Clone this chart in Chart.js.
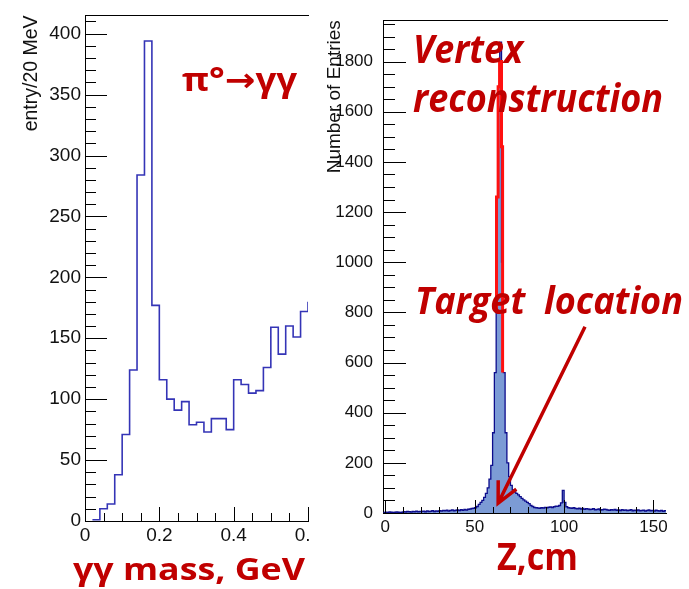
<!DOCTYPE html>
<html><head><meta charset="utf-8">
<script src="https://cdn.jsdelivr.net/npm/chart.js@4.4.1/dist/chart.umd.min.js"></script>
<style>
html,body{margin:0;padding:0;background:#fff;}
body{width:689px;height:589px;position:relative;overflow:hidden;}
#leftWrap{position:absolute;left:0;top:0;width:309px;height:589px;overflow:hidden;}
#rightWrap{position:absolute;left:312px;top:0;width:377px;height:589px;}
.ann{position:absolute;color:#c00000;font-family:"Open Sans","Noto Sans","DejaVu Sans",sans-serif;font-weight:700;line-height:1;white-space:pre;transform-origin:0 0;}
.it{font-style:italic;}
</style></head><body>
<div id="leftWrap"><canvas id="c1" width="340" height="589"></canvas></div>
<div id="rightWrap"><canvas id="c2" width="377" height="589"></canvas></div>
<div class="ann" id="a1" data-w="115" style="left:182px;top:62px;font-size:33px;">π°→γγ</div>
<div class="ann" id="a2" data-w="232" style="left:73px;top:553px;font-size:31px;">γγ mass, GeV</div>
<div class="ann it" id="a3" data-w="110" style="left:413px;top:28px;font-size:39px;">Vertex</div>
<div class="ann it" id="a4" data-w="250" style="left:413px;top:77px;font-size:39px;">reconstruction</div>
<div class="ann it" id="a5" data-w="268" style="left:415px;top:281px;font-size:37px;">Target  location</div>
<div class="ann" id="a6" data-w="81" style="left:497px;top:537px;font-size:37px;">Z,cm</div>
<script>
// ---------- DATA ----------
// Left: gamma-gamma invariant mass, 20 MeV bins (left bin edges, GeV)
const massBinLow = [0.02,0.04,0.06,0.08,0.10,0.12,0.14,0.16,0.18,0.20,0.22,0.24,0.26,0.28,0.30,0.32,0.34,0.36,0.38,0.40,0.42,0.44,0.46,0.48,0.50,0.52,0.54,0.56,0.58,0.60];
const massBinWidth = 0.02;
const massCounts = [1,10,14,38,71,124,284,394,177,116,100,91,98,79,81,73,84,84,75,116,112,105,107,126,159,137,160,151,172,180];
const massTicks = [0,0.2,0.4,0.6];
const massTickLabels = ['0','0.2','0.4','0.6'];
const massYTicks = [0,50,100,150,200,250,300,350,400];
const massYTickLabels = ['0','50','100','150','200','250','300','350','400'];

// Right: reconstructed vertex Z, 1 cm bins starting at -1 cm
const zBinStart = -1;
const zBinWidth = 1;
const zCounts = [
 2,3,2,4,3,2,3,4,3,2,3,
 5,4,6,5,4,6,5,7,5,6,
 6,7,5,8,6,7,9,6,8,7,
 9,8,10,9,11,8,10,12,9,11,
 12,10,13,11,14,12,15,
 16,18,19,21,26,34,42,50,62,78,100,135,190,320,560,
 1260,1700,1877,1000,
 560,320,200,145,110,92,84,78,72,65,58,52,47,42,37,
 30,26,22,21,20,19,21,20,22,21,23,24,22,25,27,
 27,30,40,90,42,25,21,
 20,19,21,18,17,19,16,18,15,17,16,14,15,17,13,14,16,12,13,15,
 14,12,11,13,12,14,11,12,10,13,11,12,10,11,13,9,11,10,12,9,
 10,11,8,10,12,9,10,8,11,9,8,10,7,9];
// Red overlay histogram (narrow peak outline)
const redZ = [62.2,62.2,63.1,63.9,65.0,65.6];
const redCounts = [800,1260,1700,1800,1460,560];
const zTicks = [0,50,100,150];
const zTickLabels = ['0','50','100','150'];
const zYTicks = [0,200,400,600,800,1000,1200,1400,1600,1800];
const zYTickLabels = ['0','200','400','600','800','1000','1200','1400','1600','1800'];
// Arrow annotation (data units): tail -> tip
const arrowTail = [111.7, 743];
const arrowTip = [63.1, 39];

// ---------- HELPERS ----------
const FONT = '"Liberation Sans", Arial, Helvetica, sans-serif';
function stepPoints(lows, counts, width){
  const pts = lows.map((x,i)=>({x:x, y:counts[i]}));
  pts.push({x: lows[lows.length-1]+width, y: counts[counts.length-1]});
  return pts;
}
const zLows = zCounts.map((_,i)=>zBinStart + i*zBinWidth);

function insideTicks(cfg){
  return {
    id:'insideTicks',
    afterDraw(chart){
      const ctx = chart.ctx, a = chart.chartArea;
      const xs = chart.scales.x, ys = chart.scales.y;
      ctx.save();
      ctx.strokeStyle = '#000'; ctx.lineWidth = 1;
      ctx.beginPath();
      for(let i=0;;i++){
        const v = cfg.x.from + i*cfg.x.minor;
        if (v > xs.max + 1e-9) break;
        if (v < xs.min - 1e-9) continue;
        const r = v/cfg.x.major, isMaj = Math.abs(r-Math.round(r))<1e-6;
        const px = Math.round(xs.getPixelForValue(v))+0.5;
        ctx.moveTo(px, a.bottom); ctx.lineTo(px, a.bottom-(isMaj?cfg.x.majLen:cfg.x.minLen));
      }
      for(let i=0;;i++){
        const v = cfg.y.from + i*cfg.y.minor;
        if (v > ys.max + 1e-9) break;
        const r = v/cfg.y.major, isMaj = Math.abs(r-Math.round(r))<1e-6;
        const py = Math.round(ys.getPixelForValue(v))+0.5;
        ctx.moveTo(a.left, py); ctx.lineTo(a.left+(isMaj?cfg.y.majLen:cfg.y.minLen), py);
      }
      // top frame line
      ctx.moveTo(a.left, Math.round(a.top)+0.5); ctx.lineTo(a.right+2, Math.round(a.top)+0.5);
      ctx.stroke();
      if (cfg.arrow){
        const x0 = xs.getPixelForValue(cfg.arrow.tail[0]), y0 = ys.getPixelForValue(cfg.arrow.tail[1]);
        const x1 = xs.getPixelForValue(cfg.arrow.tip[0]), y1 = ys.getPixelForValue(cfg.arrow.tip[1]);
        const ang = Math.atan2(y0-y1, x0-x1);
        const hl = 23, ha = 26*Math.PI/180;
        ctx.strokeStyle = '#c00000'; ctx.lineWidth = 3.5; ctx.lineCap='butt';
        ctx.beginPath();
        ctx.moveTo(x0,y0); ctx.lineTo(x1,y1);
        ctx.moveTo(x1+hl*Math.cos(ang-ha), y1+hl*Math.sin(ang-ha));
        ctx.lineTo(x1,y1);
        ctx.lineTo(x1+hl*Math.cos(ang+ha), y1+hl*Math.sin(ang+ha));
        ctx.stroke();
      }
      ctx.restore();
    }
  };
}

// ---------- LEFT CHART ----------
new Chart(document.getElementById('c1'), {
  type:'line',
  data:{datasets:[{
    data: stepPoints(massBinLow, massCounts, massBinWidth),
    borderColor:'#3434b6', borderWidth:1.6, pointRadius:0, stepped:true, fill:false, tension:0
  }]},
  options:{
    responsive:false, animation:false, events:[],
    layout:{padding:{left:0, top:15, right:32, bottom:0}},
    plugins:{legend:{display:false}, tooltip:{enabled:false}},
    scales:{
      x:{type:'linear', min:0, max:0.6,
        grid:{display:false, drawTicks:false},
        border:{display:true, color:'#000', width:1},
        afterBuildTicks:s=>{ s.ticks = massTicks.map(v=>({value:v})); },
        afterFit:s=>{ s.height = 68; },
        ticks:{font:{family:FONT, size:19}, color:'#111', padding:3, maxRotation:0, autoSkip:false,
          callback:(v,i)=>massTickLabels[i]}
      },
      y:{type:'linear', min:0, max:415,
        grid:{display:false, drawTicks:false},
        border:{display:true, color:'#000', width:1},
        afterBuildTicks:s=>{ s.ticks = massYTicks.map(v=>({value:v})); },
        afterFit:s=>{ s.width = 85; },
        ticks:{font:{family:FONT, size:19}, color:'#111', padding:4, autoSkip:false,
          callback:(v,i)=>massYTickLabels[i]},
        title:{display:true, text:'entry/20 MeV', align:'end', color:'#111',
          font:{family:FONT, size:19.5}, padding:{top:20, bottom:0}}
      }
    }
  },
  plugins:[insideTicks({
    x:{from:0, minor:0.05, major:0.2, majLen:14, minLen:8},
    y:{from:0, minor:10, major:50, majLen:22, minLen:11}
  })]
});

// ---------- RIGHT CHART ----------
new Chart(document.getElementById('c2'), {
  type:'line',
  data:{datasets:[
    {data: redZ.map((x,i)=>({x:x, y:redCounts[i]})),
     borderColor:'#ff1010', borderWidth:3, pointRadius:0, stepped:true, fill:false, order:0},
    {data: stepPoints(zLows, zCounts, zBinWidth),
     borderColor:'#0c0c8c', borderWidth:1.3, backgroundColor:'#7c9bd5',
     pointRadius:0, stepped:true, fill:'origin', order:1}
  ]},
  options:{
    responsive:false, animation:false, events:[],
    layout:{padding:{left:0, top:8, right:23, bottom:0}},
    plugins:{legend:{display:false}, tooltip:{enabled:false}},
    scales:{
      x:{type:'linear', min:-1.3, max:157,
        grid:{display:false, drawTicks:false},
        border:{display:true, color:'#000', width:1},
        afterBuildTicks:s=>{ s.ticks = zTicks.map(v=>({value:v})); },
        afterFit:s=>{ s.height = 76; },
        ticks:{font:{family:FONT, size:17}, color:'#111', padding:4, maxRotation:0, autoSkip:false,
          callback:(v,i)=>zTickLabels[i]}
      },
      y:{type:'linear', min:0, max:1965,
        grid:{display:false, drawTicks:false},
        border:{display:true, color:'#000', width:1},
        afterBuildTicks:s=>{ s.ticks = zYTicks.map(v=>({value:v})); },
        afterFit:s=>{ s.width = 71; },
        ticks:{font:{family:FONT, size:17}, color:'#111', padding:10, autoSkip:false,
          callback:(v,i)=>zYTickLabels[i]},
        title:{display:true, text:'Number of Entries', align:'end', color:'#111',
          font:{family:FONT, size:19}, padding:{top:11, bottom:0}}
      }
    }
  },
  plugins:[insideTicks({
    x:{from:0, minor:10, major:50, majLen:13, minLen:6},
    y:{from:0, minor:50, major:200, majLen:23, minLen:12},
    arrow:{tail:arrowTail, tip:arrowTip}
  })]
});

// fit annotation widths
document.querySelectorAll('.ann').forEach(el=>{
  const w = parseFloat(el.dataset.w);
  const m = el.getBoundingClientRect().width;
  if (m>0) el.style.transform = 'scaleX(' + (w/m).toFixed(3) + ')';
});
</script>
</body></html>
